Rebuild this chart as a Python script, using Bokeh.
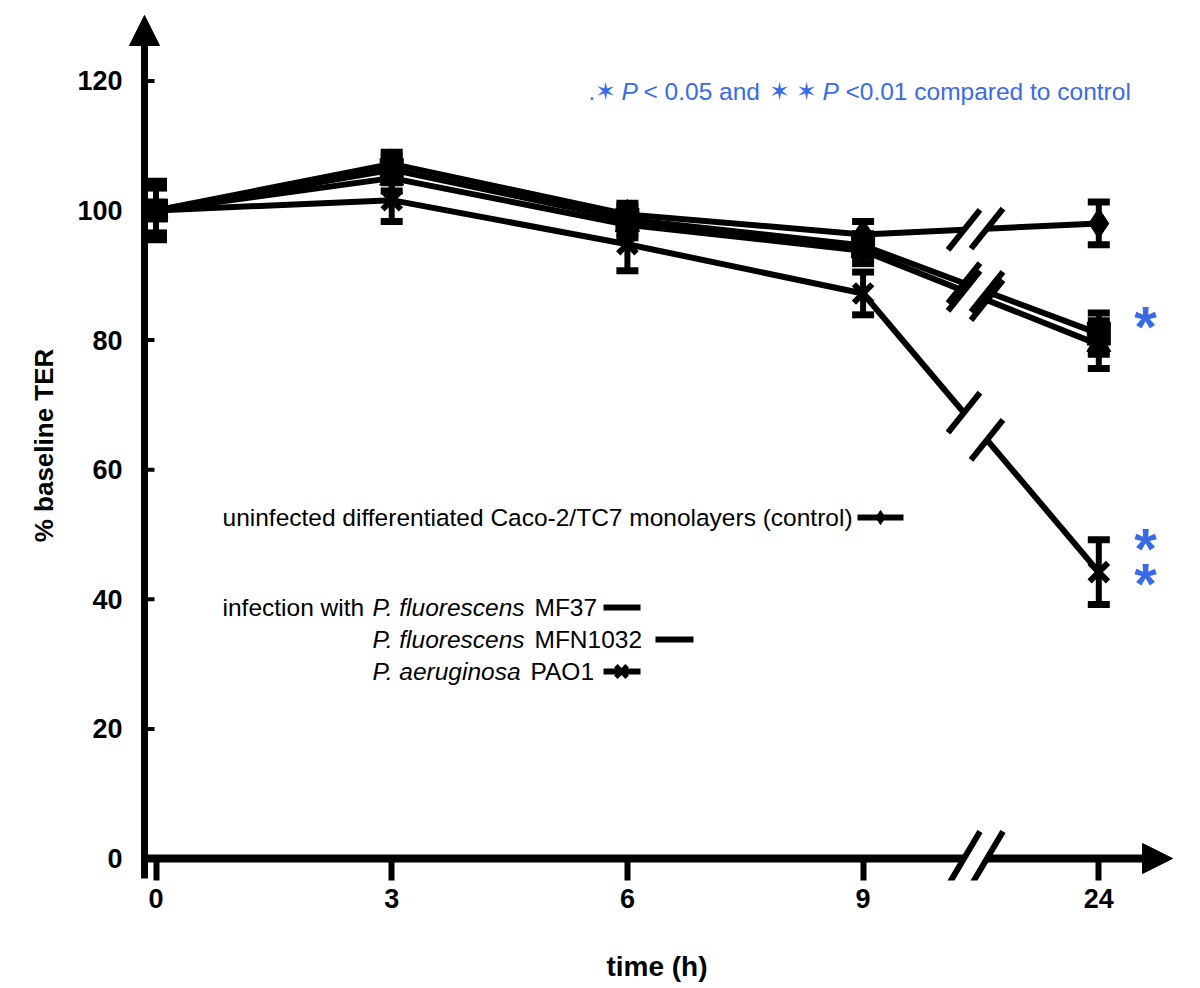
from bokeh.plotting import figure
from bokeh.models import Range1d, FixedTicker, Whisker, TeeHead, Arrow, NormalHead, ColumnDataSource
from bokeh.core.properties import value
from bokeh.embed import file_html
from bokeh.resources import INLINE

# ---------------- data ----------------
time_labels = ["0", "3", "6", "9", "24"]          # hours (axis broken between 9 and 24)
time_pos = [0, 1, 2, 3, 4]

control = [100.0, 107.2, 99.4, 96.3, 98.0]
control_err = [3.5, 1.8, 1.7, 2.0, 3.3]
mf37 = [100.0, 106.3, 98.6, 94.6, 81.0]
mf37_err = [3.5, 2.0, 2.0, 1.8, 3.2]
mfn1032 = [100.0, 105.0, 97.8, 93.8, 79.3]
mfn1032_err = [3.5, 2.0, 2.0, 2.0, 3.7]
pao1 = [100.0, 101.6, 94.8, 87.2, 44.2]
pao1_err = [4.5, 3.3, 4.1, 3.3, 5.0]

y_ticks = [0, 20, 40, 60, 80, 100, 120]

x_title = "time (h)"
y_title = "% baseline TER"
legend_control = "uninfected differentiated Caco-2/TC7 monolayers (control)"
legend_prefix = "infection with"
legend_species = ["P. fluorescens", "P. fluorescens", "P. aeruginosa"]
legend_strains = ["MF37", "MFN1032", "PAO1"]
note_parts = [".\u2736", "P", "< 0.05 and", "\u2736 \u2736", "P", "<0.01 compared to control"]

FONT = "Liberation Sans"
BLUE = "#3a6be6"

# ---------------- layout helpers (screen px -> data) ----------------
X0, PX = 155.5, 235.7     # screen x of t index 0, px per index
Y0, PY = 858.0, 6.48      # screen y of value 0, px per unit


def X(sx):
    return (sx - X0) / PX


def Y(sy):
    return (Y0 - sy) / PY


W, H = 1192, 988
p = figure(width=W, height=H, output_backend="svg", toolbar_location=None,
           x_range=Range1d(X(128), X(1185)), y_range=Range1d(Y(880), Y(10)),
           min_border_left=128, min_border_right=W - 1185, min_border_top=10,
           min_border_bottom=H - 880)
p.outline_line_color = None
p.grid.visible = False
p.background_fill_color = "white"

# x axis (ticks + labels from Bokeh, line drawn separately)
xa = p.xaxis[0]
xa.ticker = FixedTicker(ticks=time_pos)
xa.major_label_overrides = {i: lab for i, lab in zip(time_pos, time_labels)}
xa.axis_line_color = None
xa.major_tick_in = 22
xa.major_tick_out = 0
xa.major_tick_line_width = 6
xa.major_tick_line_color = "black"
xa.minor_tick_line_color = None
xa.major_label_standoff = 8
xa.major_label_text_font = FONT
xa.major_label_text_font_style = "bold"
xa.major_label_text_font_size = "27px"
xa.major_label_text_color = "black"
xa.axis_label = x_title
xa.axis_label_text_font = FONT
xa.axis_label_text_font_style = "bold"
xa.axis_label_text_font_size = "28px"
xa.axis_label_text_color = "black"
xa.axis_label_standoff = 40

ya = p.yaxis[0]
ya.ticker = FixedTicker(ticks=y_ticks)
ya.axis_line_color = None
ya.major_tick_line_color = None
ya.minor_tick_line_color = None
ya.major_tick_in = 0
ya.major_tick_out = 0
ya.major_label_standoff = 6
ya.major_label_text_font = FONT
ya.major_label_text_font_style = "bold"
ya.major_label_text_font_size = "27px"
ya.major_label_text_color = "black"
ya.axis_label = y_title
ya.axis_label_text_font = FONT
ya.axis_label_text_font_style = "bold"
ya.axis_label_text_font_size = "26px"
ya.axis_label_text_color = "black"
ya.axis_label_standoff = 15

# ---------------- hand-drawn axis lines with arrows ----------------
ax_x = X(144)
p.segment(x0=[ax_x], y0=[Y(878)], x1=[ax_x], y1=[Y(42)], line_width=7, line_color="black")
p.add_layout(Arrow(end=NormalHead(size=30, fill_color="black", line_color="black"),
                   x_start=ax_x, y_start=Y(60), x_end=ax_x, y_end=Y(15), line_alpha=0))
p.segment(x0=[ax_x], y0=[0], x1=[X(1144)], y1=[0], line_width=8, line_color="black")
p.add_layout(Arrow(end=NormalHead(size=30, fill_color="black", line_color="black"),
                   x_start=X(1120), y_start=0, x_end=X(1172), y_end=0, line_alpha=0))
yt = y_ticks[1:]
p.segment(x0=[ax_x] * len(yt), y0=yt, x1=[X(154)] * len(yt), y1=yt, line_width=4, line_color="black")

# ---------------- series ----------------
series = [
    (control, control_err, "diamond", 30),
    (mf37, mf37_err, "square", 23),
    (mfn1032, mfn1032_err, "triangle", 24),
    (pao1, pao1_err, "x", 26),
]

for vals, _, _, _ in series:
    p.line(time_pos, vals, line_width=6, line_color="black", line_join="round")

for vals, err, _, _ in series:
    src = ColumnDataSource(dict(x=time_pos,
                                upper=[v + e for v, e in zip(vals, err)],
                                lower=[v - e for v, e in zip(vals, err)]))
    p.add_layout(Whisker(source=src, base="x", upper="upper", lower="lower",
                         line_width=6, line_color="black",
                         upper_head=TeeHead(size=22, line_width=7, line_color="black"),
                         lower_head=TeeHead(size=22, line_width=7, line_color="black")))

for vals, _, mk, sz in series:
    if mk == "x":
        p.scatter(time_pos, vals, marker=mk, size=sz, line_width=6, line_color="black")
    else:
        p.scatter(time_pos, vals, marker=mk, size=sz, fill_color="black", line_color="black")

# ---------------- axis-break marks ----------------
xb = X(975)
d = 11.5 / PX
sdx, sdy = 16 / PX, 20 / PY


def interp(vals, x):
    f = x - 3
    return vals[3] + f * (vals[4] - vals[3])


wx0, wy0, wx1, wy1 = [], [], [], []
sx0, sy0, sx1, sy1 = [], [], [], []
for vals, _, _, _ in series:
    for c in (xb - d, xb + d):
        cy = interp(vals, c)
        sx0.append(c - sdx); sy0.append(cy - sdy); sx1.append(c + sdx); sy1.append(cy + sdy)
    wx0.append(xb - d); wy0.append(interp(vals, xb - d))
    wx1.append(xb + d); wy1.append(interp(vals, xb + d))
# x-axis break
tdy = 27 / PY
for c in (xb - d, xb + d):
    sx0.append(c - sdx); sy0.append(-tdy); sx1.append(c + sdx); sy1.append(tdy)
wx0.append(xb - d); wy0.append(0); wx1.append(xb + d); wy1.append(0)

p.segment(x0=wx0, y0=wy0, x1=wx1, y1=wy1, line_width=12, line_color="white")
p.segment(x0=sx0, y0=sy0, x1=sx1, y1=sy1, line_width=6, line_color="black")

# ---------------- legend (hand-made, as in the original) ----------------
tf = value(FONT)
fs = value("24.5px")
p.text(x=[X(222)], y=[Y(517)], text=[legend_control], text_font=tf, text_font_size=fs,
       text_baseline="middle", text_color="black")
p.segment(x0=[X(857)], y0=[Y(517)], x1=[X(903)], y1=[Y(517)], line_width=6, line_color="black")
p.scatter([X(880)], [Y(517)], marker="diamond", size=14, fill_color="black", line_color="black")

p.text(x=[X(222)], y=[Y(607)], text=[legend_prefix], text_font=tf, text_font_size=fs,
       text_baseline="middle", text_color="black")
row_y = [607, 639, 671]
strain_x = [534, 534, 530]
sample = [(603, 640), (655, 693), (603, 640)]
for sp, st, ry, stx, (l0, l1) in zip(legend_species, legend_strains, row_y, strain_x, sample):
    p.text(x=[X(372)], y=[Y(ry)], text=[sp], text_font=tf, text_font_size=fs,
           text_font_style="italic", text_baseline="middle", text_color="black")
    p.text(x=[X(stx)], y=[Y(ry)], text=[st], text_font=tf, text_font_size=fs,
           text_baseline="middle", text_color="black")
    p.segment(x0=[X(l0)], y0=[Y(ry)], x1=[X(l1)], y1=[Y(ry)], line_width=6, line_color="black")
p.scatter([X(621)], [Y(671)], marker="x", size=16, line_width=5, line_color="black")

# ---------------- significance note ----------------
note_x = [588, 621, 643, 768, 822, 845]
note_style = ["normal", "italic", "normal", "normal", "italic", "normal"]
for txt, nx, st in zip(note_parts, note_x, note_style):
    p.text(x=[X(nx)], y=[Y(91)], text=[txt], text_font=tf, text_font_size=fs,
           text_font_style=st, text_baseline="middle", text_color=BLUE)

# asterisks next to 24 h points
for ay in (318, 540, 575):
    p.text(x=[X(1145)], y=[Y(ay + 8)], text=["*"], text_font=tf, text_font_size=value("58px"),
           text_font_style="bold", text_align="center", text_baseline="alphabetic", text_color=BLUE)

open("out.html", "w").write(file_html(p, INLINE))
